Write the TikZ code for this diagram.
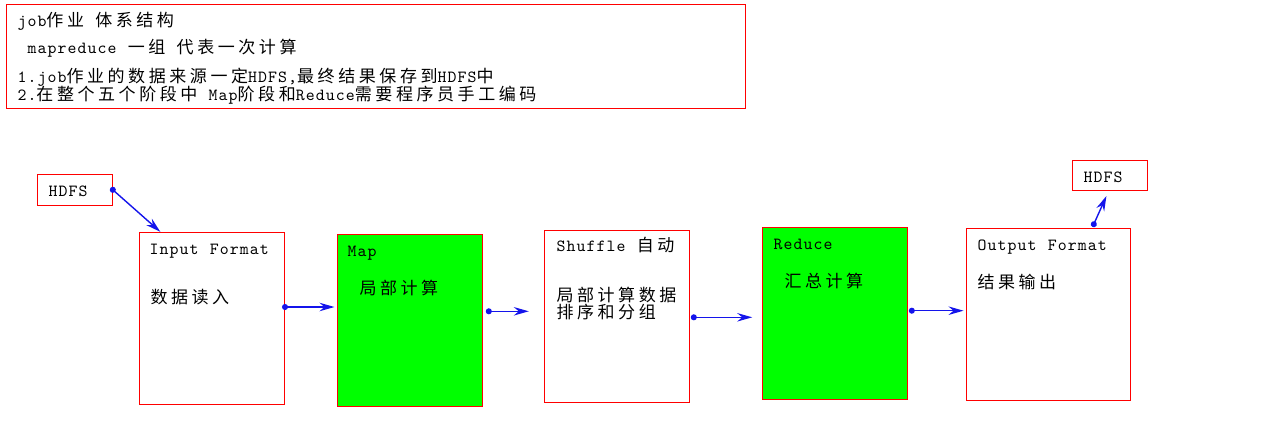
\documentclass[tikz,border=0pt]{standalone}
\usepackage{fontspec}
\setmainfont{lmmono10-regular.otf}[LetterSpace=6.5, WordSpace=1.12]
\newfontfamily\zhfont[LetterSpace=21,Scale=1.0]{Noto Sans CJK SC}
\newcommand{\zh}[1]{{\zhfont #1}}
\usetikzlibrary{arrows.meta}
\definecolor{red1}{RGB}{255, 0, 0}
\definecolor{green1}{RGB}{0, 255, 0}
\definecolor{blue1}{RGB}{20, 20, 235}

\begin{document}
\begin{tikzpicture}[x=1pt, y=-1pt, line width=1pt,
  font=\fontsize{17}{17}\selectfont,
  box/.style={rectangle, draw=red1, inner sep=0pt, minimum width=145pt, minimum height=172pt},
  txt/.style={anchor=base west, inner sep=0pt},
  flow/.style={draw=blue1, line width=1.4pt, {Circle[length=6pt]}-{Stealth[length=15pt,width=8.5pt,inset=5pt]}, shorten <=-3pt}]
  \useasboundingbox (0,0) rectangle (1273,436);

  % note at the top
  \node[box, minimum width=739pt, minimum height=103pt] (note) at (375.5,56.5) {};
  \node[txt] (l1) at (17,26.7) {job\zh{作业} \zh{体系结构}};
  \node[txt] (l2) at (27,54) {mapreduce \zh{一组} \zh{代表一次计算}};
  \node[txt] (l3) at (17,82.7) {1.job\zh{作业的数据来源一定}HDFS,\zh{最终结果保存到}HDFS\zh{中}};
  \node[txt] (l4) at (17,100) {2.\zh{在整个五个阶段中} Map\zh{阶段和}Reduce\zh{需要程序员手工编码}};

  % the five stages
  \node[box, minimum width=75pt, minimum height=31pt] (hdfsin) at (74.8,189.8) {};
  \node[txt] (hdfsintxt) at (48,196) {HDFS};

  \node[box] (input) at (212,318.3) {};
  \node[txt] (inputtxt) at (149,254.7) {Input Format};
  \node[txt] (inputzh) at (150,303) {\zh{数据读入}};

  \node[box, fill=green1] (map) at (409.8,320.5) {};
  \node[txt] (maptxt) at (347,256.7) {Map};
  \node[txt] (mapzh) at (359,294) {\zh{局部计算}};

  \node[box] (shuffle) at (616.8,316.2) {};
  \node[txt] (shuffletxt) at (556,251.7) {Shuffle \zh{自动}};
  \node[txt] (shufflezh) at (556,301.3) {\zh{局部计算数据}};
  \node[txt] (shufflezhb) at (556,318) {\zh{排序和分组}};

  \node[box, fill=green1] (reduce) at (834.8,313.3) {};
  \node[txt] (reducetxt) at (773,249.3) {Reduce};
  \node[txt] (reducezh) at (784,287.3) {\zh{汇总计算}};

  \node[box, minimum width=164pt] (output) at (1048.3,314.3) {};
  \node[txt] (outputtxt) at (977,250) {Output Format};
  \node[txt] (outputzh) at (977,288.3) {\zh{结果输出}};

  \node[box, minimum width=75pt, minimum height=30pt] (hdfsout) at (1110,175.8) {};
  \node[txt] (hdfsouttxt) at (1083,182.3) {HDFS};

  % arrows
  \draw[flow] (hdfsin.east) -- ([xshift=21.3pt]input.north west);
  \foreach \from/\to/\fy/\ty/\sa/\sb in {input/map/11.3/13.5/-3/2.3, map/shuffle/9.2/4.9/3/15, shuffle/reduce/-1.1/-4/1/9.6, reduce/output/2.6/3.6/1/2.3}
    \draw[flow, shorten <=\sa pt, shorten >=\sb pt] ([yshift=\fy pt]\from.east) -- ([yshift=\ty pt]\to.west);
  \draw[flow] ([xshift=128pt,yshift=3.6pt]output.north west) -- ([xshift=34.4pt,yshift=-4.7pt]hdfsout.south west);
\end{tikzpicture}
\end{document}
